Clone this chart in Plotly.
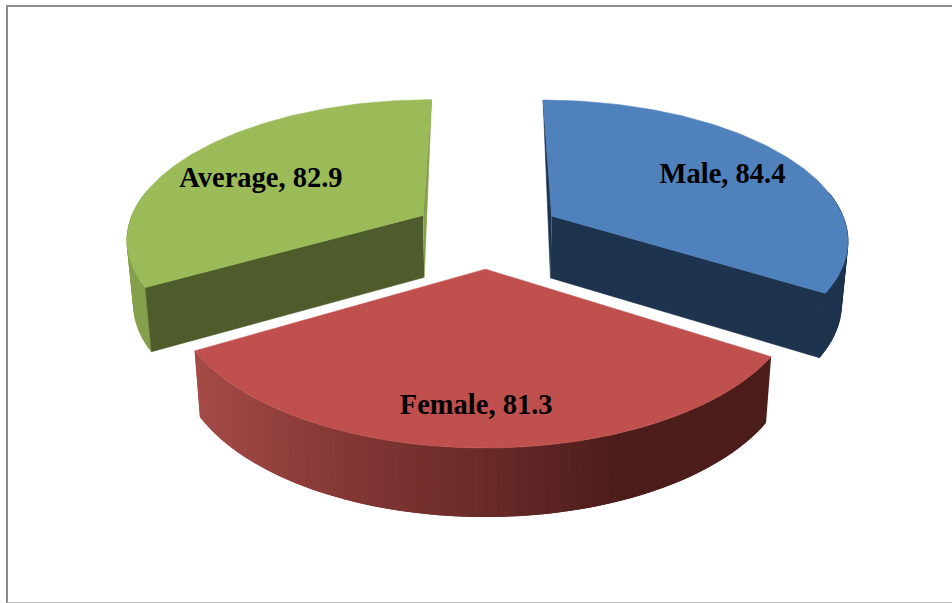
import numpy as np
import plotly.graph_objects as go

# Data
categories = ["Male", "Female", "Average"]
values = [84.4, 81.3, 82.9]

# Styling of each slice
top_colors = ["#4F81BD", "#C0504D", "#9BBB59"]
face_colors = ["#1E334E", "#4E1E1C", "#4E5B2A"]
wall_colors = ["#1E334E", None, "#84A04C"]
label_radius = [0.71, 0.786, 0.665]
label_turn = [1.0, 0.8, -3.0]
LABEL_DY = 2.5

# Perspective camera of the pie plane (pixels)
XV, YV = 487.0, -663.0
A, B, D = 1918.0, 5790.0, 6.465
EXPLODE = 0.2536
W, H = 952, 603

# Shading of the red outer wall, by screen x
GRAD_X = [195, 350, 487, 620, 770]
GRAD_R = [165, 130, 105, 76, 78]
GRAD_G = [75, 55, 43, 29, 30]
GRAD_B = [72, 52, 42, 27, 28]


def project(x, y):
    w = D + y
    return XV + A * x / w, YV + B / w


def drop(px, py):
    """Bottom-rim counterpart of a point on the top surface."""
    dy = 62 + (py - 217) * 7 / 231
    return px + (XV - px) * 0.018, py + dy


def arc(theta0, theta1, ox, oy, n):
    t = np.radians(np.linspace(theta0, theta1, n))
    return project(ox + np.sin(t), oy + np.cos(t))


def poly(fig, xs, ys, color, edge=0.6):
    fig.add_trace(go.Scatter(
        x=list(xs), y=list(ys), mode="lines", fill="toself",
        fillcolor=color, line=dict(color=color, width=edge),
        hoverinfo="skip", showlegend=False,
    ))


fig = go.Figure()

total = sum(values)
spans = [v / total * 360 for v in values]
starts = list(np.cumsum([0] + spans[:-1]))

labels = []
for i in [2, 0, 1]:
    a0, a1 = starts[i], starts[i] + spans[i]
    mid = np.radians((a0 + a1) / 2)
    ox, oy = EXPLODE * np.sin(mid), EXPLODE * np.cos(mid)
    ax, ay = project(ox, oy)
    bx, by = drop(ax, ay)

    # outer wall, as consecutive overlapping strips; the back of the rim is hidden
    n = 120
    angles = np.linspace(a0, a1, n + 1)
    tx, ty = arc(a0, a1, ox, oy, n + 1)
    dx, dy = drop(tx, ty)
    for k in range(n):
        if np.cos(np.radians(angles[k])) > 0.2:
            continue
        e = min(k + 2, n)
        if np.cos(np.radians(angles[e])) > 0.2:
            continue
        if wall_colors[i]:
            c = wall_colors[i]
            w_edge = 0.6
        else:
            xm = (tx[k] + tx[k + 1]) / 2
            c = "rgb(%d,%d,%d)" % (np.interp(xm, GRAD_X, GRAD_R),
                                   np.interp(xm, GRAD_X, GRAD_G),
                                   np.interp(xm, GRAD_X, GRAD_B))
            w_edge = 0
        poly(fig, [tx[k], tx[e], dx[e], dx[k]], [ty[k], ty[e], dy[e], dy[k]], c, edge=w_edge)

    # radial faces: the one at the back only shows as a thin sliver
    for edge in (a0, a1):
        ex, ey = arc(edge, edge, ox, oy, 1)
        if np.cos(np.radians(edge)) > 0.99:
            sliver = wall_colors[i] or face_colors[i]
            poly(fig, [ax, ex[0], bx], [ay, ey[0], by], sliver)
        elif i != 1:
            fx, fy = drop(ex[0], ey[0])
            poly(fig, [ax, ex[0], fx, bx], [ay, ey[0], fy, by], face_colors[i])

    # top surface
    poly(fig, [ax] + list(tx) + [ax], [ay] + list(ty) + [ay], top_colors[i])

    lm = mid + np.radians(label_turn[i])
    lx, ly = project(ox + label_radius[i] * np.sin(lm), oy + label_radius[i] * np.cos(lm))
    labels.append((lx, ly + LABEL_DY, f"{categories[i]}, {values[i]}"))

fig.add_trace(go.Scatter(
    x=[l[0] for l in labels], y=[l[1] for l in labels], text=[l[2] for l in labels],
    mode="text", textposition="middle center",
    textfont=dict(family="Liberation Serif", size=28.5, color="#000000", weight="bold"),
    hoverinfo="skip", showlegend=False,
))

fig.update_layout(
    width=W, height=H, margin=dict(l=0, r=0, t=0, b=0),
    paper_bgcolor="white", plot_bgcolor="white", showlegend=False,
    xaxis=dict(range=[0, W], visible=False, fixedrange=True),
    yaxis=dict(range=[H, 0], visible=False, fixedrange=True),
    shapes=[
        dict(type="line", xref="x", yref="y", x0=6, x1=W, y0=6, y1=6,
             line=dict(color="#8C8C8C", width=2)),
        dict(type="line", xref="x", yref="y", x0=7, x1=7, y0=6, y1=H,
             line=dict(color="#8C8C8C", width=2)),
        dict(type="line", xref="x", yref="y", x0=7, x1=W, y0=602.5, y1=602.5,
             line=dict(color="#BBBBBB", width=1)),
    ],
)

fig.write_html("out.html", config={"displayModeBar": False},
               post_script="document.body.style.margin='0';")
